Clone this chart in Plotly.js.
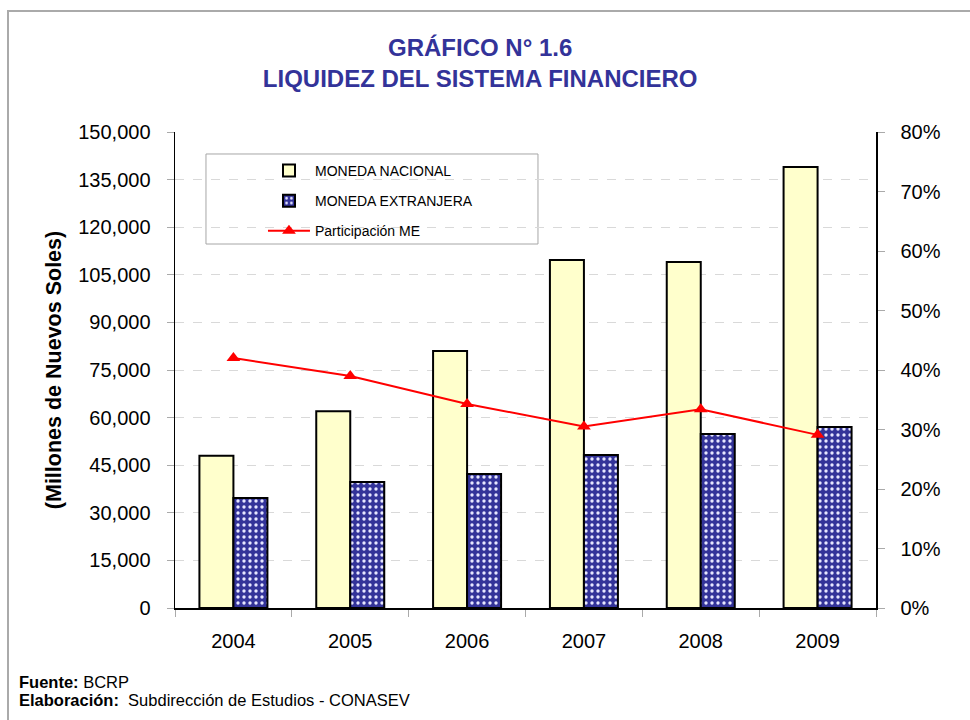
<!DOCTYPE html>
<html>
<head>
<meta charset="utf-8">
<script src="https://cdn.plot.ly/plotly-3.0.1.min.js"></script>
<style>
  html, body { margin: 0; padding: 0; background: #fff; }
  #wrap { position: relative; width: 970px; height: 720px; }
  #chart { width: 970px; height: 720px; }
  #frame { position: absolute; left: 7px; top: 10px; width: 980px; height: 730px;
           border-left: 2px solid #aaaaaa; border-top: 2px solid #aaaaaa; pointer-events: none; }
</style>
</head>
<body>
<div id="wrap">
  <div id="chart"></div>
  <div id="frame"></div>
</div>
<script>
// Data
const years = ['2004', '2005', '2006', '2007', '2008', '2009'];
const monedaNacional = [48000, 62000, 81000, 109700, 109000, 139000];
const monedaExtranjera = [34700, 39700, 42200, 48200, 54800, 57000];
const participacionME = [0.420, 0.390, 0.343, 0.305, 0.334, 0.291];

const font = 'Liberation Sans, Arial, sans-serif';

const traces = [
  {
    type: 'bar', name: 'MONEDA NACIONAL', x: years, y: monedaNacional,
    marker: { color: '#ffffcc', line: { color: '#000000', width: 2 } },
    legendgroup: 'a', hoverinfo: 'skip'
  },
  {
    type: 'bar', name: 'MONEDA EXTRANJERA', x: years, y: monedaExtranjera,
    marker: { color: '#333399', line: { color: '#000000', width: 2 },
              pattern: { shape: '.', fgcolor: '#e6e6ff', bgcolor: '#333399', size: 6, solidity: 0.25 } },
    legendgroup: 'b', hoverinfo: 'skip'
  },
  {
    type: 'scatter', mode: 'lines+markers', name: 'Participación ME', x: years, y: participacionME,
    yaxis: 'y2', line: { color: '#ff0000', width: 2 },
    marker: { symbol: 'triangle-up', size: 12, color: '#ff0000' },
    legendgroup: 'c', hoverinfo: 'skip'
  }
];

const layout = {
  width: 970, height: 720,
  margin: { l: 175, r: 94, t: 132, b: 112 },
  paper_bgcolor: '#ffffff', plot_bgcolor: '#ffffff',
  font: { family: font, color: '#000000', size: 20 },
  showlegend: true,
  barmode: 'group', bargap: 0.418, bargroupgap: 0,
  title: {
    text: 'GRÁFICO N° 1.6<br>LIQUIDEZ DEL SISTEMA FINANCIERO',
    font: { family: font, size: 24, color: '#333399', weight: 'bold' },
    x: 0.495, xanchor: 'center', y: 0.922, yanchor: 'top', yref: 'container'
  },
  xaxis: {
    type: 'category', showline: true, linecolor: '#000000', linewidth: 1.5,
    ticks: 'outside', tickson: 'boundaries', ticklen: 7, tickcolor: '#aaaaaa',
    tickfont: { size: 20 }, ticklabelstandoff: 14, showgrid: false, zeroline: false, fixedrange: true
  },
  yaxis: {
    range: [0, 150000], dtick: 15000, tick0: 0, tickformat: ',d',
    showline: true, linecolor: '#000000', linewidth: 1.5,
    ticks: 'outside', ticklen: 7, tickcolor: '#aaaaaa', ticklabelstandoff: 12,
    showgrid: true, gridcolor: '#d9d9d9', griddash: 'dash', gridwidth: 1, zeroline: false,
    tickfont: { size: 20 },
    title: { text: '(Millones de Nuevos Soles)', font: { size: 21.5, weight: 'bold' }, standoff: 10 },
    fixedrange: true
  },
  yaxis2: {
    overlaying: 'y', side: 'right', range: [0, 0.8], dtick: 0.1, tick0: 0, tickformat: '.0%',
    showline: true, linecolor: '#000000', linewidth: 1.5,
    ticks: 'outside', ticklen: 7, tickcolor: '#aaaaaa', ticklabelstandoff: 12,
    showgrid: false, zeroline: false, tickfont: { size: 20 }, fixedrange: true
  },
  legend: {
    x: 0.1255, xanchor: 'left', y: 0.952, yanchor: 'top',
    bgcolor: 'rgba(0,0,0,0)', borderwidth: 0,
    font: { size: 14 }, traceorder: 'grouped', tracegroupgap: 9, itemwidth: 42
  },
  shapes: [
    { type: 'rect', xref: 'paper', yref: 'paper', x0: 0.0442, x1: 0.5178, y0: 0.7647, y1: 0.9538,
      line: { color: '#a6a6a6', width: 1 }, fillcolor: '#ffffff', layer: 'below' }
  ],
  annotations: [
    { xref: 'paper', yref: 'paper', x: -0.2247, y: -0.156, xanchor: 'left', yanchor: 'middle',
      text: '<b>Fuente:</b> BCRP', showarrow: false, font: { size: 16.5 } },
    { xref: 'paper', yref: 'paper', x: -0.2247, y: -0.194, xanchor: 'left', yanchor: 'middle',
      text: '<b>Elaboración:</b>  Subdirección de Estudios - CONASEV', showarrow: false, font: { size: 16.5 } }
  ]
};

Plotly.newPlot('chart', traces, layout, { displayModeBar: false, staticPlot: true });
</script>
</body>
</html>
